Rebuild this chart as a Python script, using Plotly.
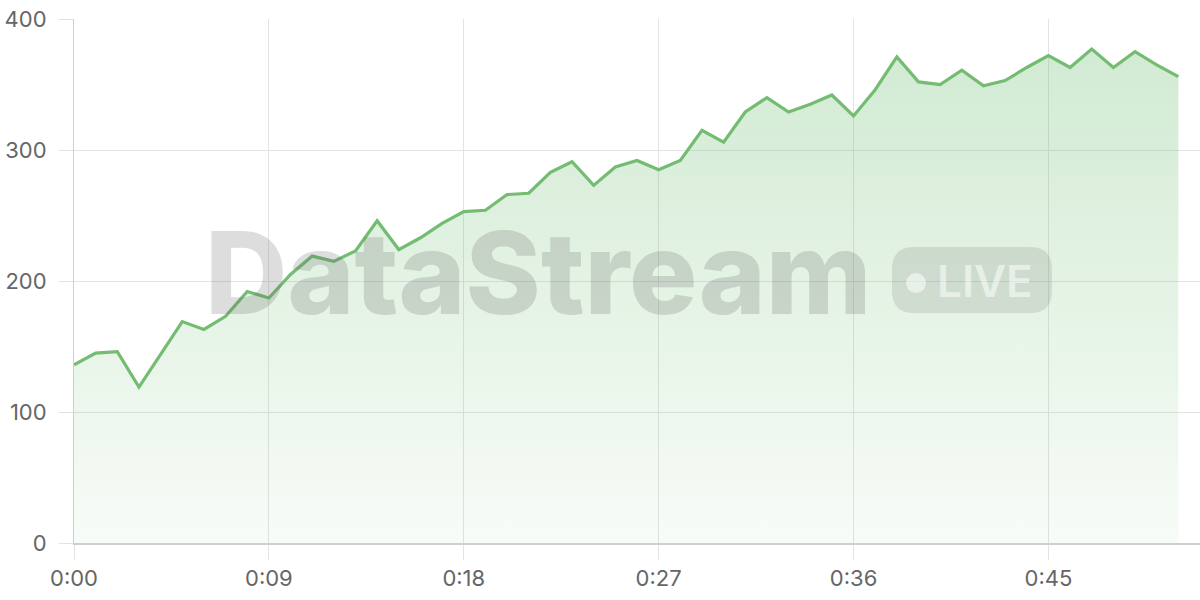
import plotly.graph_objects as go

# one reading per second, 0:00 .. 0:51
seconds = list(range(52))
values = [136, 145, 146, 119, 144, 169, 163, 173, 192, 187,
          205, 219, 215, 223, 246, 224, 233, 244, 253, 254,
          266, 267, 283, 291, 273, 287, 292, 285, 292, 315,
          306, 329, 340, 329, 335, 342, 326, 346, 371, 352,
          350, 361, 349, 353, 363, 372, 363, 377, 363, 375,
          365, 356]

tick_seconds = [0, 9, 18, 27, 36, 45]
tick_labels = ["0:00", "0:09", "0:18", "0:27", "0:36", "0:45"]
y_ticks = [0, 100, 200, 300, 400]

GREEN = "#74bc72"
GRID = "#e3e3e3"
AXIS = "#cfcfcf"
FONT = "Inter, Roboto, sans-serif"


def rounded_rect(x0, y0, x1, y1, rx, ry):
    # rounded rectangle path in paper coords
    return (f"M{x0 + rx},{y0} L{x1 - rx},{y0} Q{x1},{y0} {x1},{y0 + ry} "
            f"L{x1},{y1 - ry} Q{x1},{y1} {x1 - rx},{y1} "
            f"L{x0 + rx},{y1} Q{x0},{y1} {x0},{y1 - ry} "
            f"L{x0},{y0 + ry} Q{x0},{y0} {x0 + rx},{y0} Z")


fig = go.Figure()
fig.add_trace(go.Scatter(
    x=seconds,
    y=values,
    mode="lines",
    line=dict(color=GREEN, width=3.2),
    fill="tozeroy",
    fillgradient=dict(
        type="vertical",
        colorscale=[[0, "rgba(102,187,106,0.05)"], [1, "rgba(102,187,106,0.30)"]],
        start=0,
        stop=380,
    ),
    hoverinfo="skip",
    showlegend=False,
))

# plot area in pixels: x 74..1200, y 19..543
def px_x(p):
    return (p - 74) / 1126


def px_y(p):
    return (543 - p) / 524


fig.add_annotation(
    text="DataStream", xref="paper", yref="paper",
    x=px_x(538), y=px_y(272), xanchor="center", yanchor="middle",
    showarrow=False,
    font=dict(family=FONT, size=114, color="rgba(100,100,100,0.22)", weight=800),
)
fig.add_shape(
    type="path", xref="paper", yref="paper", layer="above",
    path=rounded_rect(px_x(892), px_y(313), px_x(1052), px_y(247),
                      22 / 1126, 22 / 524),
    fillcolor="rgba(100,100,100,0.16)", line=dict(width=0),
)
fig.add_shape(
    type="circle", xref="paper", yref="paper", layer="above",
    x0=px_x(906), x1=px_x(926), y0=px_y(293), y1=px_y(273),
    fillcolor="rgba(255,255,255,0.55)", line=dict(width=0),
)
fig.add_annotation(
    text="LIVE", xref="paper", yref="paper",
    x=px_x(985), y=px_y(281), xanchor="center", yanchor="middle",
    showarrow=False,
    font=dict(family=FONT, size=44, color="rgba(255,255,255,0.55)", weight=600),
)

fig.update_layout(
    width=1200,
    height=600,
    margin=dict(l=74, r=0, t=19, b=57),
    paper_bgcolor="white",
    plot_bgcolor="white",
    font=dict(family=FONT, size=22, color="#666666"),
)
fig.update_xaxes(
    range=[0, 52],
    tickvals=tick_seconds,
    ticktext=tick_labels,
    showgrid=True, gridcolor=GRID, gridwidth=1,
    ticks="outside", ticklen=15, tickcolor=GRID, tickwidth=1,
    showline=True, linecolor=AXIS, linewidth=2,
    zeroline=False, automargin=False,
)
fig.update_yaxes(
    range=[0, 400],
    tickvals=y_ticks,
    showgrid=True, gridcolor=GRID, gridwidth=1,
    ticks="outside", ticklen=14, tickcolor=GRID, tickwidth=1,
    ticklabelstandoff=8,
    showline=True, linecolor=AXIS, linewidth=1,
    zeroline=False, automargin=False,
)

# drop the default 8px page margin so the figure sits at the window corner
fig.write_html(
    "out.html",
    config={"displayModeBar": False},
    post_script="document.body.style.margin = '0';",
)
